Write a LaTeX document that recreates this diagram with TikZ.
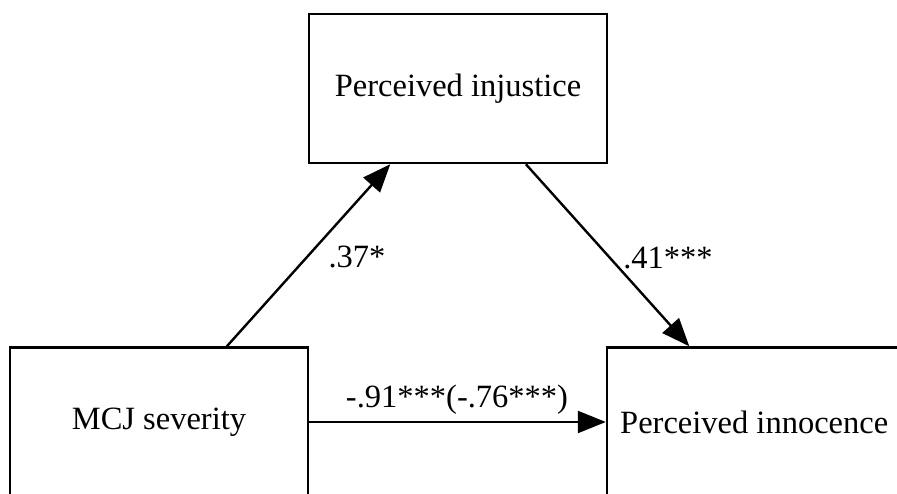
\documentclass[tikz,border=0pt]{standalone}
\usepackage{fontspec}
\setmainfont{Liberation Serif}
\usetikzlibrary{arrows.meta}
\begin{document}
\begin{tikzpicture}[x=1pt,y=1pt,
  box/.style={draw, line width=2.4pt, rectangle, minimum width=298pt, minimum height=149pt, inner sep=0pt, font=\fontsize{32.5}{39}\selectfont},
  conn/.style={line width=2.4pt, -{Triangle[length=28pt,width=22pt]}},
  lbl/.style={font=\fontsize{32.5}{39}\selectfont, inner sep=0pt}]
\useasboundingbox (0,0) rectangle (897,493);
\fill[white] (0,0) rectangle (897,493);
\node[box] (T) at (458,404.5) {Perceived injustice};
\node[box] (L) at (159,71) {MCJ severity};
\node[box, minimum width=300pt] (R) at (757,71) {};
\node[lbl, anchor=west] (Rt) at (620,71) {Perceived innocence};
\draw[conn] (L) -- (T);
\draw[conn] (T) -- (R);
\draw[conn] (L) -- (R);
\node[lbl] (a) at (357,236) {.37*};
\node[lbl] (b) at (668,235) {.41***};
\node[lbl] (c) at (457,93) {-.91***(-.76***)};
\end{tikzpicture}
\end{document}
